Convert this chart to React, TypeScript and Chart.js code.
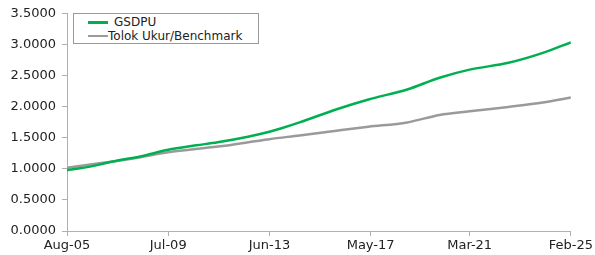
import React, { useEffect, useRef } from "react";
import { Chart, registerables } from "chart.js";

Chart.register(...registerables);

// months elapsed since Aug-05
const gsdpuMonths = [0, 6, 15, 24, 34, 47, 60, 70, 84, 94, 100, 108, 126, 140, 158, 173, 187, 205, 221, 234];
const gsdpuValues = [0.98, 1.01, 1.07, 1.14, 1.2, 1.31, 1.38, 1.43, 1.52, 1.6, 1.66, 1.75, 1.97, 2.12, 2.28, 2.47, 2.6, 2.71, 2.87, 3.04];

const benchMonths = [0, 15, 34, 47, 70, 94, 108, 126, 140, 158, 173, 187, 205, 221, 234];
const benchValues = [1.02, 1.09, 1.19, 1.27, 1.36, 1.48, 1.54, 1.62, 1.68, 1.75, 1.87, 1.93, 2.0, 2.07, 2.15];

const tickMonths = [0, 47, 94, 141, 187, 234];
const tickLabels = ["Aug-05", "Jul-09", "Jun-13", "May-17", "Mar-21", "Feb-25"];

const seriesNames = ["GSDPU", "Tolok Ukur/Benchmark"];
const GREEN = "#00b050";
const GREY = "#9a9a9a";
const AXIS = "#b0b0b0";
const FONT = "'DejaVu Sans', sans-serif";

export default function App() {
  const ref = useRef<HTMLCanvasElement | null>(null);

  useEffect(() => {
    document.body.style.margin = "0";
    if (!ref.current) return;
    const chart = new Chart(ref.current, {
      type: "line",
      data: {
        datasets: [
          {
            label: seriesNames[0],
            data: gsdpuMonths.map((m, i) => ({ x: m, y: gsdpuValues[i] })),
            borderColor: GREEN,
            borderWidth: 2.5,
            pointRadius: 0,
            cubicInterpolationMode: "monotone",
          },
          {
            label: seriesNames[1],
            data: benchMonths.map((m, i) => ({ x: m, y: benchValues[i] })),
            borderColor: GREY,
            borderWidth: 2.5,
            pointRadius: 0,
            cubicInterpolationMode: "monotone",
          },
        ],
      },
      options: {
        animation: false,
        responsive: false,
        maintainAspectRatio: false,
        layout: { padding: { top: 13, right: 23, left: 0, bottom: 0 } },
        plugins: { legend: { display: false }, tooltip: { enabled: false } },
        scales: {
          x: {
            type: "linear",
            min: 0,
            max: 234,
            afterBuildTicks: (scale: any) => {
              scale.ticks = tickMonths.map((v) => ({ value: v }));
            },
            afterFit: (scale: any) => {
              scale.height = 24;
            },
            ticks: {
              autoSkip: false,
              maxRotation: 0,
              padding: 2,
              color: "#222",
              font: { family: FONT, size: 13 },
              callback: (v: any) => {
                const i = tickMonths.indexOf(Number(v));
                return i >= 0 ? tickLabels[i] : "";
              },
            },
            grid: { display: true, drawOnChartArea: false, drawTicks: true, tickLength: 5, color: AXIS },
            border: { display: true, color: AXIS, width: 1 },
          },
          y: {
            min: 0,
            max: 3.5,
            afterFit: (scale: any) => {
              scale.width = 67;
            },
            ticks: {
              stepSize: 0.5,
              padding: 6,
              color: "#222",
              font: { family: FONT, size: 13 },
              callback: (v: any) => Number(v).toFixed(4),
            },
            grid: { display: true, drawOnChartArea: false, drawTicks: true, tickLength: 5, color: AXIS },
            border: { display: true, color: AXIS, width: 1 },
          },
        },
      },
    });
    return () => chart.destroy();
  }, []);

  const legendText: React.CSSProperties = {
    position: "absolute",
    fontFamily: FONT,
    fontSize: 12,
    color: "#222",
    lineHeight: "14px",
    whiteSpace: "nowrap",
  };

  return (
    <div style={{ position: "relative", width: 595, height: 255 }}>
      <canvas ref={ref} width={595} height={255} style={{ display: "block" }} />
      <div
        style={{
          position: "absolute",
          left: 73,
          top: 13,
          width: 184,
          height: 29,
          border: "1px solid #9a9a9a",
          background: "#fff",
        }}
      >
        <div style={{ position: "absolute", left: 14, top: 7, width: 20, height: 3, background: GREEN }} />
        <div style={{ ...legendText, left: 40, top: 1 }}>{seriesNames[0]}</div>
        <div style={{ position: "absolute", left: 14, top: 21, width: 20, height: 2, background: GREY }} />
        <div style={{ ...legendText, left: 34, top: 15 }}>{seriesNames[1]}</div>
      </div>
    </div>
  );
}
